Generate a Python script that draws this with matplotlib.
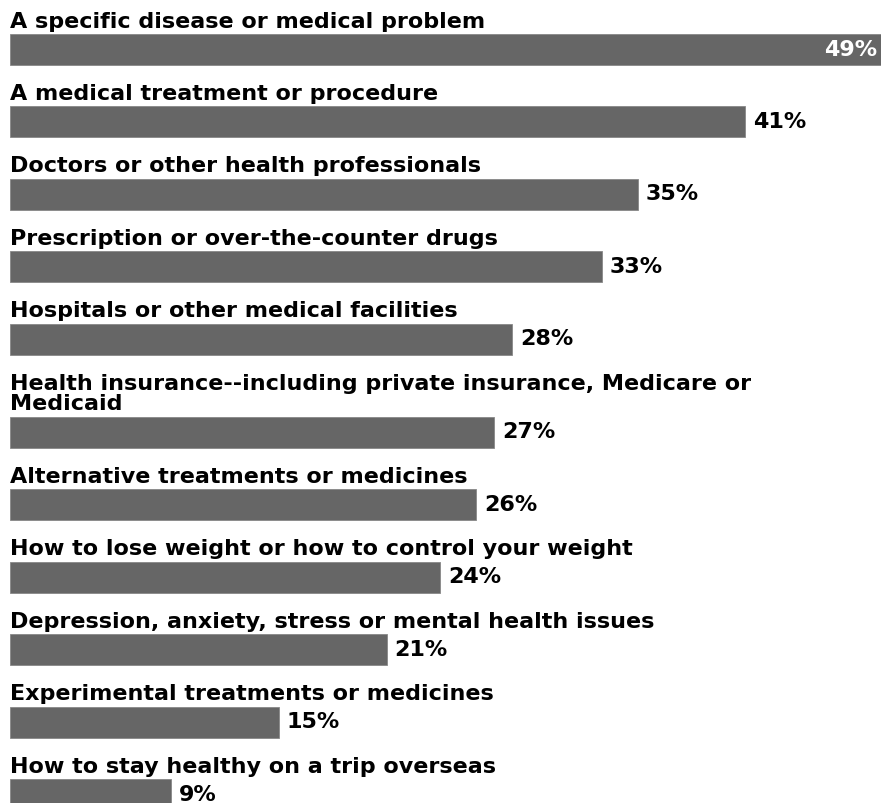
import matplotlib
matplotlib.use("Agg")
import matplotlib.pyplot as plt

categories = [
    "A specific disease or medical problem",
    "A medical treatment or procedure",
    "Doctors or other health professionals",
    "Prescription or over-the-counter drugs",
    "Hospitals or other medical facilities",
    "Health insurance--including private insurance, Medicare or\nMedicaid",
    "Alternative treatments or medicines",
    "How to lose weight or how to control your weight",
    "Depression, anxiety, stress or mental health issues",
    "Experimental treatments or medicines",
    "How to stay healthy on a trip overseas",
]
values = [49, 41, 35, 33, 28, 27, 26, 24, 21, 15, 9]
value_labels = [f"{v}%" for v in values]

W, H = 881, 804
PX_PER_UNIT = 17.93
fig = plt.figure(figsize=(W / 100, H / 100), dpi=100)
ax = fig.add_axes([0, 0, 1, 1])
ax.set_xlim(-10 / PX_PER_UNIT, (W - 10) / PX_PER_UNIT)
ax.set_ylim(H, 0)
ax.axis("off")

bar_color = "#666666"
bar_h = 31
row_step = 72.5
line_h = 20.5
font = dict(family="DejaVu Sans", fontweight="bold", fontsize=16)

y = 50
centers = []
for cat in categories:
    nlines = cat.count("\n") + 1
    y_c = y + (nlines - 1) * line_h
    centers.append(y_c)
    y = y_c + row_step

ax.barh(centers, values, height=bar_h, color=bar_color, edgecolor="#888888", linewidth=0.6)

xmax = ax.get_xlim()[1]
gap = 8 / PX_PER_UNIT
for yc, cat, v, lab in zip(centers, categories, values, value_labels):
    top = yc - bar_h / 2
    ax.text(0, top - 7, cat, ha="left", va="baseline", color="black",
            linespacing=1.0, **font)
    if v >= xmax:
        ax.text(xmax - 4 / PX_PER_UNIT, top + 21, lab, ha="right", va="baseline",
                color="white", **font)
    else:
        ax.text(v + gap, top + 21, lab, ha="left", va="baseline", color="black", **font)

fig.savefig("out.png", dpi=100, facecolor="white")
